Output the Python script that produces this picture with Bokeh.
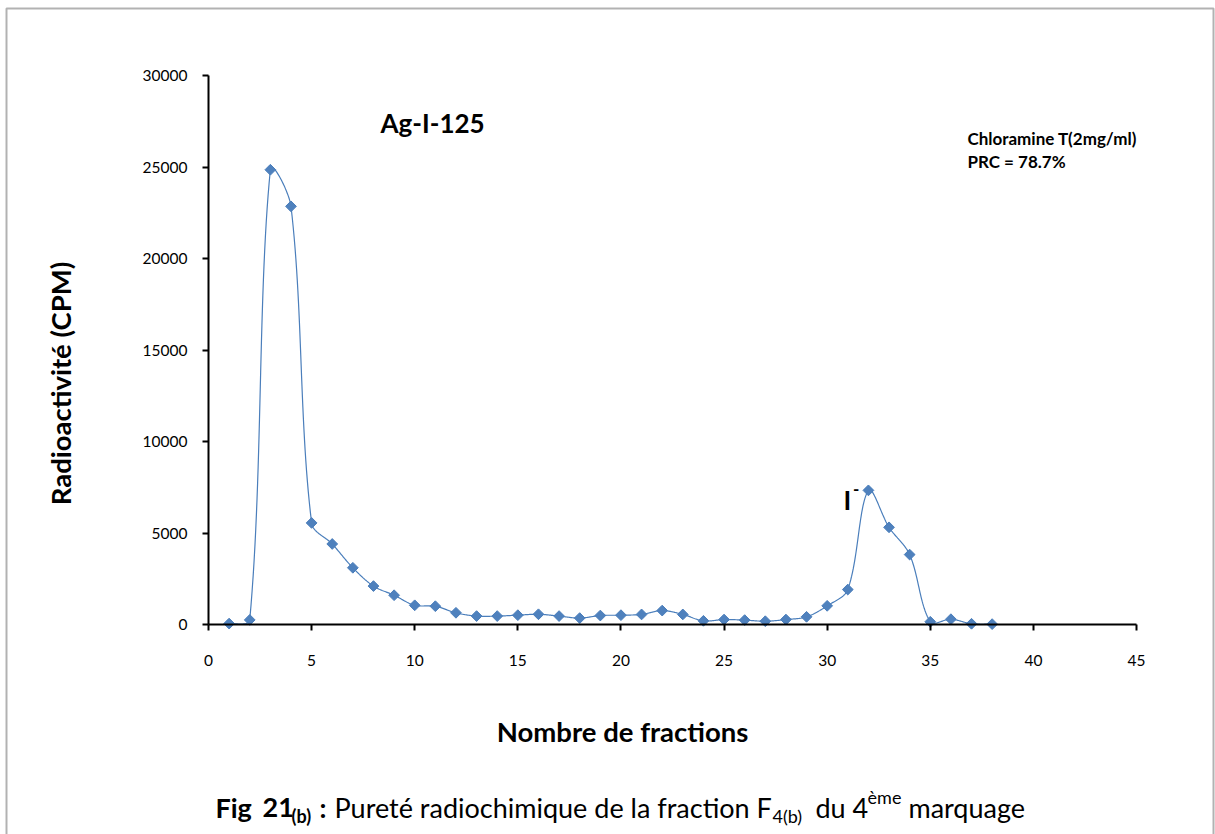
import numpy as np
from bokeh.plotting import figure
from bokeh.models import Range1d, FixedTicker, Label, BoxAnnotation
from bokeh.embed import file_html
from bokeh.resources import INLINE

# Elution profile: counts per fraction
fractions = list(range(1, 39))
cpm = [50, 250, 24850, 22850, 5550, 4400, 3100, 2100, 1600, 1050,
       1000, 640, 460, 460, 510, 560, 460, 350, 490, 510,
       550, 760, 550, 200, 270, 240, 180, 270, 420, 1020,
       1910, 7330, 5310, 3820, 150, 290, 40, 20]

x_ticks = [0, 5, 10, 15, 20, 25, 30, 35, 40, 45]
y_ticks = [0, 5000, 10000, 15000, 20000, 25000, 30000]

FONT = "Lato"
BLUE = "#4A7EBB"

# Canvas geometry (pixels): the axes box sits inside a larger drawing area
W, H = 1215, 834
AX_LEFT, AX_RIGHT = 208, 1136      # x = 0 and x = 45
AX_TOP, AX_BOTTOM = 75, 624        # y = 30000 and y = 0
X_MAX, Y_MAX = 45, 30000
ux = X_MAX / (AX_RIGHT - AX_LEFT)  # data units per pixel
uy = Y_MAX / (AX_BOTTOM - AX_TOP)


def smooth_curve(xs, ys, steps=30):
    """Bezier smoothing through every point, tangents weighted by on-screen chord lengths."""
    pts = np.column_stack([np.asarray(xs, float) / ux, np.asarray(ys, float) / uy])
    n = len(pts)
    tang = np.zeros_like(pts)
    dist = np.linalg.norm(np.diff(pts, axis=0), axis=1)
    for i in range(n):
        a = pts[max(i - 1, 0)]
        b = pts[min(i + 1, n - 1)]
        tang[i] = b - a
    t = np.linspace(0.0, 1.0, steps, endpoint=False)[:, None]
    segs = []
    for i in range(n - 1):
        p1, p2 = pts[i], pts[i + 1]
        d_prev = dist[i - 1] if i > 0 else dist[i]
        d_cur = dist[i]
        d_next = dist[i + 1] if i + 1 < n - 1 else dist[i]
        k1 = (d_cur / (d_prev + d_cur)) / 3.0 if i > 0 else 1 / 3.0
        k2 = (d_cur / (d_cur + d_next)) / 3.0 if i + 1 < n - 1 else 1 / 3.0
        c1 = p1 + tang[i] * k1 * (1.0 if i > 0 else 0.5)
        c2 = p2 - tang[i + 1] * k2 * (1.0 if i + 1 < n - 1 else 0.5)
        segs.append((1 - t) ** 3 * p1 + 3 * (1 - t) ** 2 * t * c1
                    + 3 * (1 - t) * t ** 2 * c2 + t ** 3 * p2)
    segs.append(pts[-1:])
    curve = np.vstack(segs)
    return curve[:, 0] * ux, curve[:, 1] * uy


p = figure(width=W, height=H, output_backend="svg", toolbar_location=None,
           x_range=Range1d(-AX_LEFT * ux, (W - AX_LEFT) * ux),
           y_range=Range1d(-(H - AX_BOTTOM) * uy, AX_BOTTOM * uy),
           min_border=0, min_border_left=0, min_border_right=0,
           min_border_top=0, min_border_bottom=0)
p.background_fill_color = "white"
p.border_fill_color = "white"
p.outline_line_color = None
p.xgrid.visible = False
p.ygrid.visible = False

for ax in (p.xaxis[0], p.yaxis[0]):
    ax.fixed_location = 0
    ax.axis_line_color = "black"
    ax.axis_line_width = 2
    ax.major_tick_line_color = "black"
    ax.major_tick_line_width = 2
    ax.major_tick_out = 6
    ax.major_tick_in = 0
    ax.minor_tick_line_color = None
    ax.major_label_text_font = FONT
    ax.major_label_text_font_size = "15.5px"
    ax.major_label_text_color = "black"

p.xaxis.bounds = (0, X_MAX)
p.yaxis.bounds = (0, Y_MAX)
p.xaxis.ticker = FixedTicker(ticks=x_ticks)
p.yaxis.ticker = FixedTicker(ticks=y_ticks)
p.xaxis.major_label_standoff = 24
p.yaxis.major_label_standoff = 15

sx, sy = smooth_curve(fractions, cpm)
p.line(sx, sy, line_color=BLUE, line_width=1.2)
p.scatter(fractions, cpm, marker="square", angle=np.pi / 4, size=7.6,
          fill_color="#4F81BD", line_color=BLUE, line_width=1)


def add_text(x, y, text, size, bold=False, align="left", baseline="alphabetic", angle=0.0):
    p.add_layout(Label(x=x, y=y, text=text, text_font=FONT,
                       text_font_size=size,
                       text_font_style="bold" if bold else "normal",
                       text_align=align, text_baseline=baseline,
                       angle=angle, text_color="black"))


# axis titles
add_text(20.08, -5850, "Nombre de fractions", "27.5px", bold=True, align="center")
add_text(-7.18, 13169, "Radioactivité (CPM)", "27.5px", bold=True, align="center",
         baseline="middle", angle=np.pi / 2)

# peak annotations
add_text(8.34, 27431, "Ag-I-125", "26px", bold=True)
add_text(36.8, 26557, "Chloramine T(2mg/ml)", "17px", bold=True)
add_text(36.8, 25300, "PRC = 78.7%", "17px", bold=True)
add_text(30.79, 6776, "I", "26px", bold=True)
add_text(31.25, 7430, "-", "17px", bold=True)

# figure caption
cap_y, sub_y, sup_y = -10000, -10490, -9450
add_text(0.34, cap_y, "Fig", "27px", bold=True)
add_text(2.62, cap_y, "21", "27px", bold=True)
add_text(4.03, sub_y, "(b)", "18px", bold=True)
add_text(5.38, cap_y, ":", "27px", bold=True)
add_text(6.11, cap_y, "Pureté radiochimique de la fraction F", "27px")
add_text(27.35, sub_y, "4(b)", "18px")
add_text(29.43, cap_y, "du 4", "27px")
add_text(31.96, sup_y, "ème", "18px")
add_text(33.94, cap_y, "marquage", "27px")

# frame around the whole figure
p.add_layout(BoxAnnotation(left=(6 - AX_LEFT) * ux, right=(1213 - AX_LEFT) * ux,
                           top=(AX_BOTTOM - 8) * uy, bottom=-(H + 20 - AX_BOTTOM) * uy,
                           fill_color=None, fill_alpha=0,
                           line_color="black", line_width=2))

open("out.html", "w").write(file_html(p, INLINE))
